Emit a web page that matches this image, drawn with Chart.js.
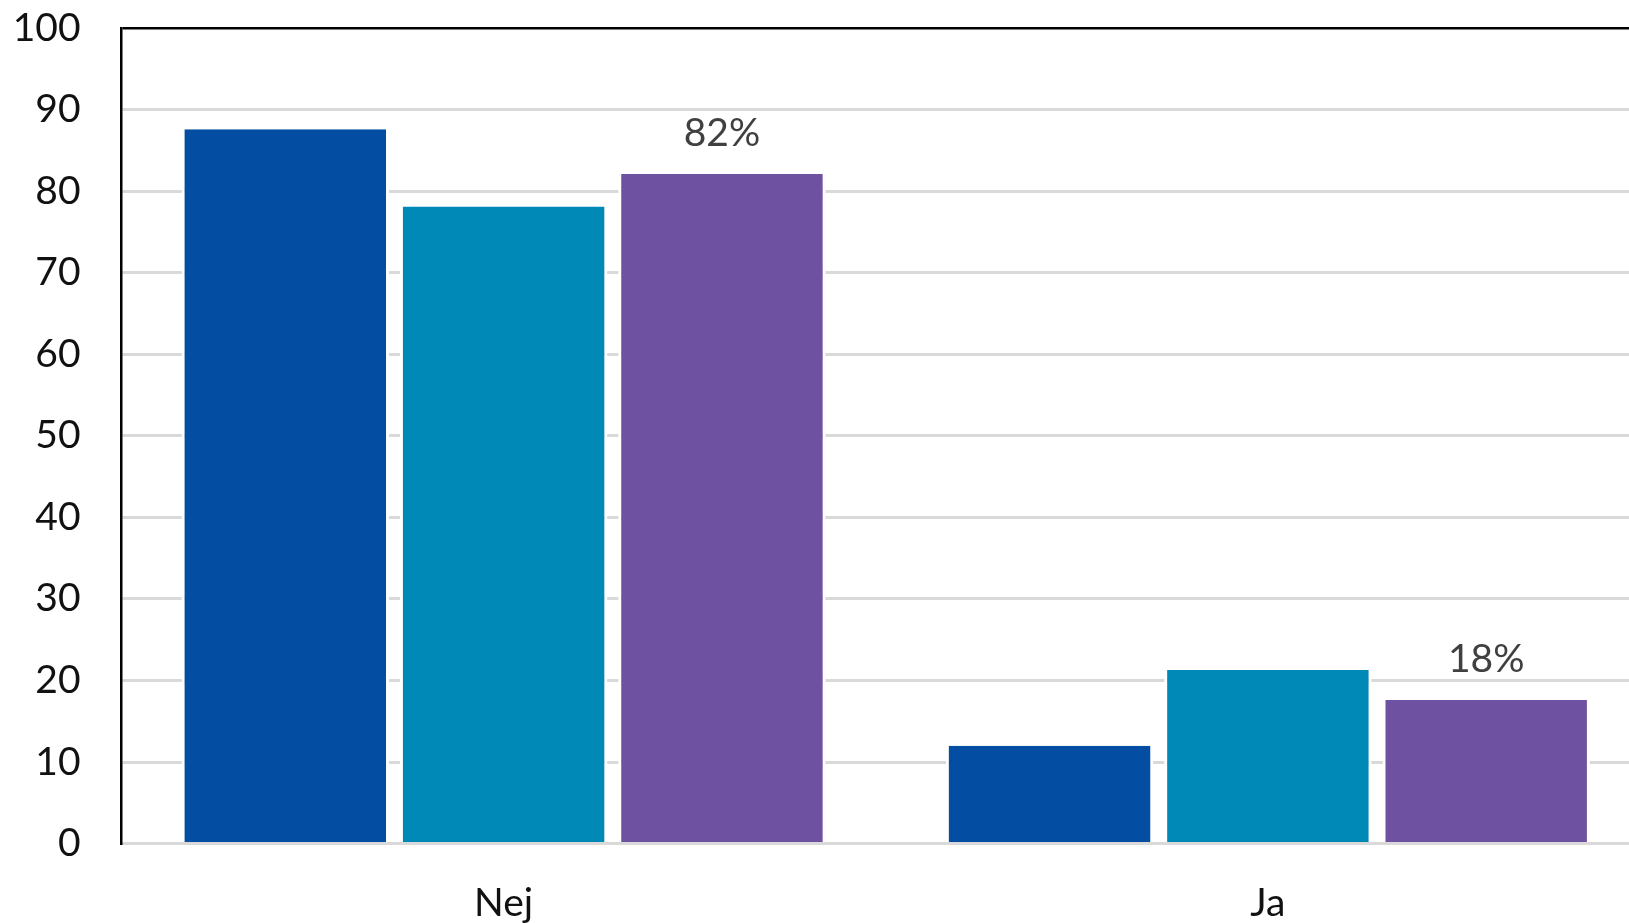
<!DOCTYPE html>
<html>
<head>
<meta charset="utf-8">
<script src="https://cdn.jsdelivr.net/npm/chart.js@4"></script>
<style>
html,body{margin:0;padding:0;background:#fff;overflow:hidden;}
#wrap{width:1660px;height:923px;position:relative;}
</style>
</head>
<body>
<div id="wrap"><canvas id="c"></canvas></div>
<script>
const categories = ["Nej", "Ja"];
const seriesBlue = [87.6, 12.0];
const seriesTeal = [78.1, 21.3];
const seriesPurple = [82.1, 17.6];
const yTicks = [0, 10, 20, 30, 40, 50, 60, 70, 80, 90, 100];

const FONT = "Lato, 'Liberation Sans', sans-serif";

const labelPlugin = {
  id: 'pctLabels',
  afterDatasetsDraw(chart) {
    const ctx = chart.ctx;
    const ds = chart.data.datasets[2];
    const meta = chart.getDatasetMeta(2);
    ctx.save();
    ctx.font = "39px " + FONT;
    ctx.fillStyle = "#404040";
    ctx.textAlign = "center";
    ctx.textBaseline = "alphabetic";
    meta.data.forEach((bar, i) => {
      ctx.fillText(Math.round(ds.data[i]) + "%", bar.x, bar.y - 28);
    });
    ctx.restore();
  }
};

const barStyle = {
  borderColor: "#ffffff",
  borderWidth: {left: 3, right: 3, top: 0, bottom: 0},
  borderSkipped: false,
  barPercentage: 0.95,
  categoryPercentage: 0.857
};

new Chart(document.getElementById('c'), {
  type: 'bar',
  data: {
    labels: categories,
    datasets: [
      Object.assign({label: "A", data: seriesBlue, backgroundColor: "#034EA2"}, barStyle),
      Object.assign({label: "B", data: seriesTeal, backgroundColor: "#0089B6"}, barStyle),
      Object.assign({label: "C", data: seriesPurple, backgroundColor: "#6F51A1"}, barStyle)
    ]
  },
  plugins: [labelPlugin],
  options: {
    responsive: true,
    maintainAspectRatio: false,
    animation: false,
    layout: {padding: {top: 28, right: 10, left: 0, bottom: 0}},
    plugins: {legend: {display: false}, tooltip: {enabled: false}},
    scales: {
      x: {
        offset: true,
        grid: {display: false, drawTicks: false},
        border: {display: true, color: "#d9d9d9", width: 3},
        ticks: {font: {family: FONT, size: 39}, color: "#111111", padding: 36},
        afterFit(scale) { scale.height = 79.4; scale.paddingLeft = 0; scale.paddingRight = 0; }
      },
      y: {
        min: 0, max: 100,
        afterBuildTicks(scale) { scale.ticks = yTicks.map(v => ({value: v})); },
        grid: {
          drawTicks: false,
          color: ctx => (ctx.tick && ctx.tick.value === 100) ? "#000000" : "#d9d9d9",
          lineWidth: ctx => (ctx.tick && ctx.tick.value === 100) ? 2.5 : 3
        },
        border: {display: true, color: "#000000", width: 2.5},
        ticks: {font: {family: FONT, size: 39}, color: "#111111", padding: 41},
        afterFit(scale) { scale.width = 121.5; scale.paddingTop = 0; scale.paddingBottom = 0; }
      }
    }
  }
});
</script>
</body>
</html>
